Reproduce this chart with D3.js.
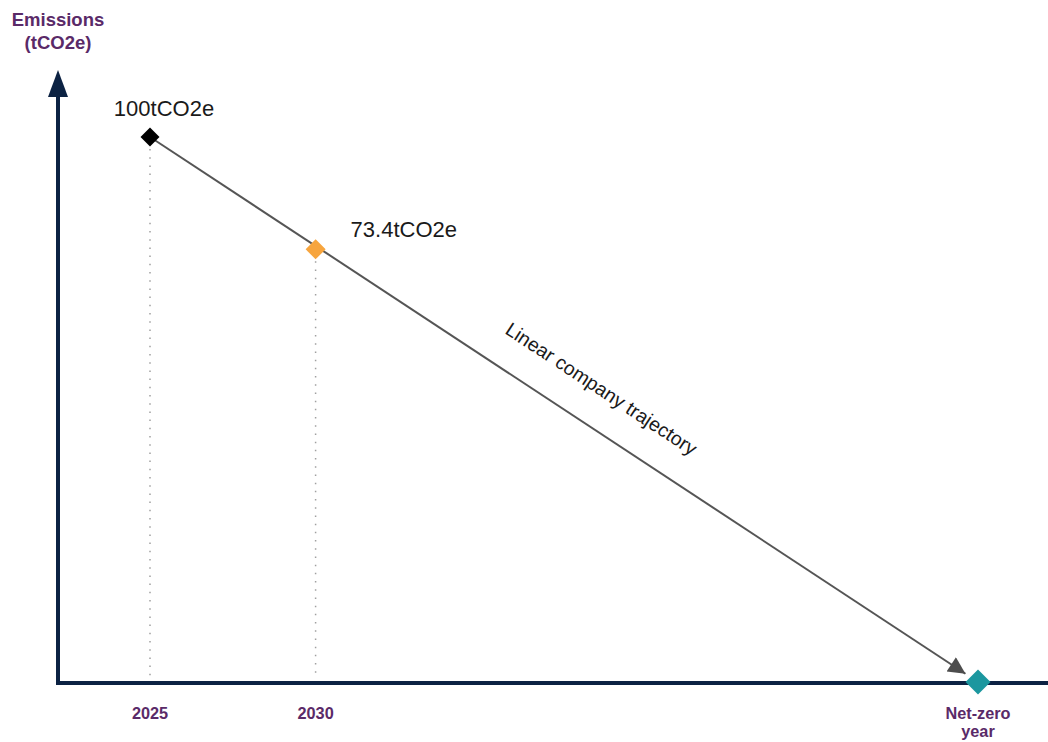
<!DOCTYPE html>
<html>
<head>
<meta charset="utf-8">
<script src="https://cdn.jsdelivr.net/npm/d3@7"></script>
<style>
  html, body { margin: 0; padding: 0; background: #ffffff; }
  svg { display: block; }
</style>
</head>
<body>
<svg id="chart" width="1048" height="742"></svg>
<script>
// ---- data ----
const years = [2025, 2030, 2050];
const emissions = [100, 79.4, 0];          // plotted positions as drawn (schematic)
const valueLabels = ["100tCO2e", "73.4tCO2e", ""];
const tickLabels = [["2025"], ["2030"], ["Net-zero", "year"]];
const pointColors = ["#000000", "#f7a53e", "#1b979f"];
const pointSizes = [9.5, 10, 12.5];
const yAxisTitle = ["Emissions", "(tCO2e)"];
const trajectoryLabel = "Linear company trajectory";

// ---- layout ----
const W = 1048, H = 742;
const axisX = 58, axisY = 683;
const navy = "#0c2243", purple = "#5a2a68";

const svg = d3.select("#chart");
const x = d3.scaleLinear().domain([2025, 2050]).range([150, 978]);
const y = d3.scaleLinear().domain([0, 100]).range([682, 137]);

const pts = years.map((yr, i) => ({ yr, v: emissions[i], label: valueLabels[i], color: pointColors[i], s: pointSizes[i], tick: tickLabels[i] }));

// dotted guides
svg.selectAll("line.guide").data(pts.filter(d => d.v > 0)).join("line")
  .attr("class", "guide")
  .attr("x1", d => x(d.yr)).attr("x2", d => x(d.yr))
  .attr("y1", d => y(d.v) + 12).attr("y2", axisY - 6)
  .attr("stroke", "#a0a0a0").attr("stroke-width", 1.5)
  .attr("stroke-dasharray", "1.5,6.7");

// trajectory line with arrow
const defs = svg.append("defs");
defs.append("marker").attr("id", "arr")
  .attr("viewBox", "0 0 10 10").attr("refX", 10).attr("refY", 5)
  .attr("markerUnits", "userSpaceOnUse")
  .attr("markerWidth", 20).attr("markerHeight", 17).attr("orient", "auto")
  .append("path").attr("d", "M0,0 L10,5 L0,10 Z").attr("fill", "#4d4d4d");

const first = pts[0], last = pts[pts.length - 1];
const x0 = x(first.yr), y0 = y(first.v), x1 = x(last.yr), y1 = y(last.v);
const ang = Math.atan2(y1 - y0, x1 - x0);
const endGap = 15;
svg.append("line")
  .attr("x1", x0).attr("y1", y0)
  .attr("x2", x1 - endGap * Math.cos(ang)).attr("y2", y1 - endGap * Math.sin(ang))
  .attr("stroke", "#555555").attr("stroke-width", 2)
  .attr("marker-end", "url(#arr)");

// axes
svg.append("line").attr("x1", axisX).attr("x2", W).attr("y1", axisY).attr("y2", axisY)
  .attr("stroke", navy).attr("stroke-width", 4);
svg.append("line").attr("x1", axisX).attr("x2", axisX).attr("y1", axisY + 2).attr("y2", 92)
  .attr("stroke", navy).attr("stroke-width", 4);
svg.append("path")
  .attr("d", `M${axisX},70 L${axisX + 10},97 L${axisX - 10},97 Z`)
  .attr("fill", navy);

// diamonds
svg.selectAll("path.pt").data(pts).join("path")
  .attr("class", "pt")
  .attr("d", d => `M0,${-d.s} L${d.s},0 L0,${d.s} L${-d.s},0 Z`)
  .attr("transform", d => `translate(${x(d.yr)},${y(d.v)})`)
  .attr("fill", d => d.color);

// value labels
svg.append("text").text(pts[0].label)
  .attr("x", x(pts[0].yr) + 14).attr("y", y(pts[0].v) - 21)
  .attr("text-anchor", "middle")
  .attr("font-family", "Liberation Sans, Arial, sans-serif").attr("font-size", 22).attr("fill", "#1a1a1a");
svg.append("text").text(pts[1].label)
  .attr("x", x(pts[1].yr) + 35).attr("y", y(pts[1].v) - 12)
  .attr("text-anchor", "start")
  .attr("font-family", "Liberation Sans, Arial, sans-serif").attr("font-size", 22).attr("fill", "#1a1a1a");

// trajectory label
const t = 0.52, off = -31;
const tx = x0 + (x1 - x0) * t, ty = y0 + (y1 - y0) * t;
svg.append("text").text(trajectoryLabel)
  .attr("transform", `translate(${tx},${ty}) rotate(${ang * 180 / Math.PI}) translate(0,${off})`)
  .attr("text-anchor", "middle")
  .attr("font-family", "Liberation Sans, Arial, sans-serif").attr("font-size", 19.5).attr("fill", "#1a1a1a");

// tick labels
const tk = svg.selectAll("text.tick").data(pts).join("text")
  .attr("class", "tick")
  .attr("x", d => x(d.yr)).attr("y", 719)
  .attr("text-anchor", "middle")
  .attr("font-family", "Liberation Sans, Arial, sans-serif").attr("font-weight", "bold")
  .attr("font-size", 16.3).attr("fill", purple);
tk.selectAll("tspan").data(d => d.tick).join("tspan")
  .attr("x", function() { return d3.select(this.parentNode).attr("x"); })
  .attr("dy", (d, i) => i === 0 ? 0 : 18)
  .text(d => d);

// y axis title
svg.append("text")
  .attr("x", 59).attr("y", 26)
  .attr("text-anchor", "middle")
  .attr("font-family", "Liberation Sans, Arial, sans-serif").attr("font-weight", "bold")
  .attr("font-size", 18.5).attr("fill", purple)
  .selectAll("tspan").data(yAxisTitle).join("tspan")
  .attr("x", 58).attr("dy", (d, i) => i === 0 ? 0 : 23)
  .text(d => d);
</script>
</body>
</html>
